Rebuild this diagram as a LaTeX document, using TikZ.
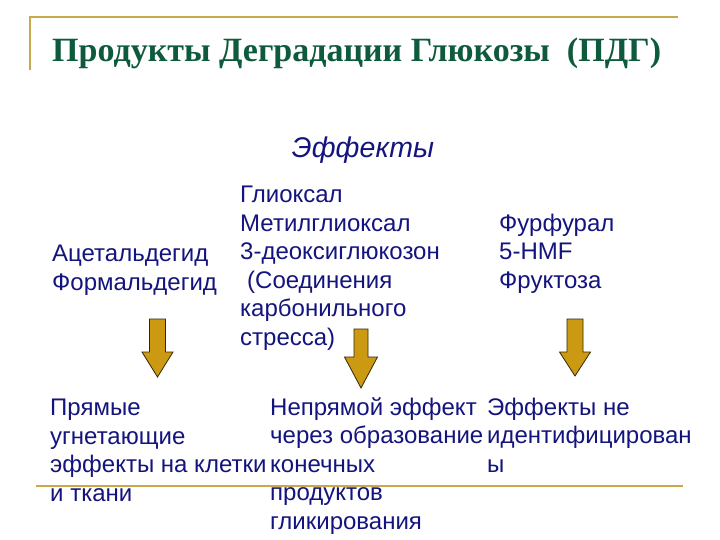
\documentclass[tikz,border=0pt]{standalone}
\usepackage{fontspec}
\setmainfont{Liberation Sans}
\newfontfamily\titlefont{Liberation Serif}
\definecolor{titlegreen}{HTML}{0E5A3C}
\definecolor{textblue}{HTML}{14147E}
\definecolor{framegold}{HTML}{C9A94A}
\definecolor{arrowgold}{HTML}{CC9A12}
\tikzset{
  txt/.style={anchor=base west,inner sep=0pt,align=left,text=textblue,font=\fontsize{24}{28.5}\selectfont},
  frameline/.style={draw=framegold,line width=1.6pt},
  goldarrow/.style={fill=arrowgold,draw=black!75!arrowgold,line width=0.8pt,line join=miter}
}

\begin{document}
\begin{tikzpicture}[x=1pt,y=-1pt]
\useasboundingbox[fill=white] (0,0) rectangle (720,540);
% slide frame
\draw[frameline] (30,70) -- (30,17) -- (678,17);
\draw[frameline] (36,486) -- (683,486);
\node[anchor=base west,inner sep=0pt,text=titlegreen,font=\titlefont\bfseries\fontsize{34}{40}\selectfont] (title) at (52,62) {Продукты Деградации Глюкозы\ \ (ПДГ)};
\node[txt,anchor=base,font=\itshape\fontsize{28.5}{32}\selectfont] (effects) at (363,158) {Эффекты};
% sources (anchored at the baseline of the last line)
\node[txt] (aldehydes) at (52,290) {Ацетальдегид\\Формальдегид};
\node[txt] (dicarbonyls) at (240,345) {Глиоксал\\Метилглиоксал\\3-деоксиглюкозон\\\hspace*{7pt}(Соединения\\карбонильного\\стресса)};
\node[txt] (furans) at (499,288) {Фурфурал\\5-HMF\\Фруктоза};
% arrows
\foreach \cx/\sw/\hw/\ytop/\yhead/\ytip in {157.5/8/15.5/319/352/377, 361/7/16.5/329/357/388, 575/8/15.5/319/352/376}{
  \draw[goldarrow] (\cx-\sw,\ytop) -- (\cx+\sw,\ytop) -- (\cx+\sw,\yhead) -- (\cx+\hw,\yhead)
    -- (\cx,\ytip) -- (\cx-\hw,\yhead) -- (\cx-\sw,\yhead) -- cycle;
}
% effects
\node[txt] (direct) at (50,501) {Прямые\\угнетающие\\эффекты на клетки\\и ткани};
\node[txt] (indirect) at (270,529) {Непрямой эффект\\через образование\\конечных\\продуктов\\гликирования};
\node[txt] (unknown) at (487,472) {Эффекты не\\идентифицирован\\ы};
\end{tikzpicture}
\end{document}
